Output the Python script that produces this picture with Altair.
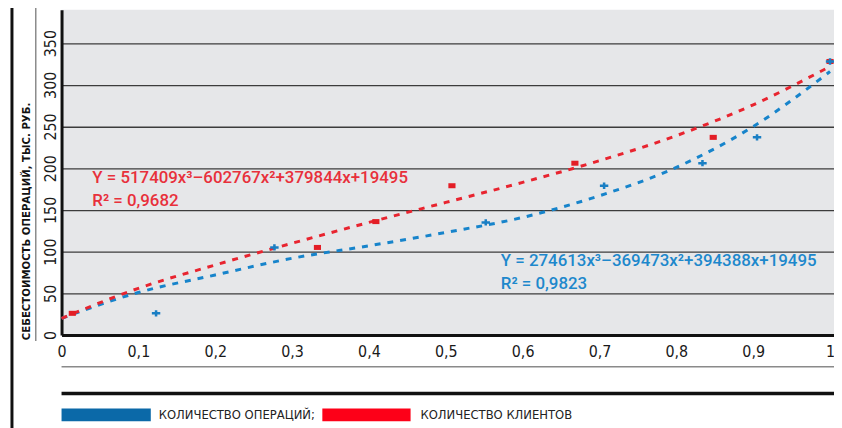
import altair as alt
import pandas as pd

# ---- data ----
x_ticks = [0, 0.1, 0.2, 0.3, 0.4, 0.5, 0.6, 0.7, 0.8, 0.9, 1.0]
y_ticks = [0, 50, 100, 150, 200, 250, 300, 350]

series_ops = "КОЛИЧЕСТВО ОПЕРАЦИЙ"
series_cli = "КОЛИЧЕСТВО КЛИЕНТОВ"

ops_x = [0.123, 0.277, 0.552, 0.706, 0.834, 0.905, 1.0]
ops_y = [26, 105, 135, 179, 206, 237, 328]
cli_x = [0.014, 0.333, 0.409, 0.508, 0.668, 0.848, 1.0]
cli_y = [26, 105, 136, 179, 206, 237, 328]

trend_x = [0, 0.1, 0.2, 0.3, 0.4, 0.5, 0.6, 0.7, 0.8, 0.9, 1.0]
ops_trend = [20, 51, 72, 92, 107, 123, 141, 167, 201, 250, 316]
cli_trend = [20, 56, 84, 110, 135, 159, 183, 209, 239, 276, 322]

eq_cli = ["Y = 517409x³–602767x²+379844x+19495", "R² = 0,9682"]
eq_ops = ["Y = 274613x³–369473x²+394388x+19495", "R² = 0,9823"]
y_title = "СЕБЕСТОИМОСТЬ ОПЕРАЦИЙ, ТЫС. РУБ."
legend_labels = ["КОЛИЧЕСТВО ОПЕРАЦИЙ;", "КОЛИЧЕСТВО КЛИЕНТОВ"]

# ---- styles ----
BLUE_T = "#1784cb"
RED_T = "#e8242f"
BLUE_P = "#1a7fc4"
RED_P = "#e31e26"
BLUE_TXT = "#1d88cc"
RED_TXT = "#e8303b"
LEG_BLUE = "#0b69a8"
LEG_RED = "#fd0018"
NARROW = "'DejaVu Sans Condensed', 'Liberation Sans Narrow', Roboto, sans-serif"
EQFONT = "Roboto, Liberation Sans, sans-serif"

points_ops = pd.DataFrame({"x": ops_x, "y": ops_y, "s": series_ops})
points_cli = pd.DataFrame({"x": cli_x, "y": cli_y, "s": series_cli})
trend = pd.concat([
    pd.DataFrame({"x": trend_x, "y": ops_trend, "s": series_ops}),
    pd.DataFrame({"x": trend_x, "y": cli_trend, "s": series_cli}),
])
one = pd.DataFrame({"k": [0]})

xs = alt.Scale(domain=[0, 779 / 775], nice=False, zero=False)
ys = alt.Scale(domain=[0, 390], nice=False)
cs = alt.Scale(domain=[series_ops, series_cli], range=[BLUE_T, RED_T])

xenc = alt.X("x:Q", scale=xs, axis=alt.Axis(
    values=x_ticks, ticks=False, grid=False, title=None,
    labelExpr="replace(format(datum.value, '~g'), '.', ',')",
    labelFont=NARROW, labelFontSize=16, labelColor="#1a1a1a",
    labelPadding=9, domainColor="#111", domainWidth=3,
    labelFlush=False, labelOverlap=False))
yenc = alt.Y("y:Q", scale=ys, axis=alt.Axis(
    values=y_ticks, ticks=False, grid=True, gridColor="#3c3c3c", gridWidth=1.3,
    labelAngle=270, labelAlign="center", labelBaseline="alphabetic",
    labelFont=NARROW, labelFontSize=16, labelColor="#1a1a1a", labelPadding=6,
    domainColor="#111", domainWidth=3, labelFlush=False, labelOverlap=False,
    title=y_title, titleAngle=270, titleX=-35, titleY=213,
    titleAlign="center", titleBaseline="middle",
    titleFont=NARROW, titleFontSize=11.4, titleFontWeight="bold", titleColor="#111"))

trend_layer = alt.Chart(trend).mark_line(
    strokeDash=[6, 7], strokeWidth=3, interpolate="monotone"
).encode(x=xenc, y=yenc, color=alt.Color("s:N", scale=cs, legend=None), detail="s:N")

rect_path = "M-1,-0.7H1V0.7H-1Z"
plus_path = "M-1,-0.3H-0.3V-0.75H0.3V-0.3H1V0.3H0.3V0.75H-0.3V0.3H-1Z"

cli_layer = alt.Chart(points_cli).mark_point(
    shape=rect_path, size=52, filled=True, opacity=1, color=RED_P
).encode(x="x:Q", y="y:Q")
ops_layer = alt.Chart(points_ops).mark_point(
    shape=plus_path, size=72, filled=True, opacity=1, color=BLUE_P
).encode(x="x:Q", y="y:Q")

def txt(s, x, y, color, font=EQFONT, size=17, weight=500):
    return alt.Chart(one).mark_text(
        text=s, align="left", baseline="middle", font=font, fontSize=size,
        fontWeight=weight, color=color
    ).encode(x=alt.value(x), y=alt.value(y))

texts = [
    txt(eq_cli[0], 31, 170, RED_TXT),
    txt(eq_cli[1], 31, 193, RED_TXT),
    txt(eq_ops[0], 443, 253, BLUE_TXT),
    txt(eq_ops[1], 443, 277, BLUE_TXT),
    txt(legend_labels[0], 98, 409, "#222", font=NARROW, size=13, weight="normal"),
    txt(legend_labels[1], 362, 409, "#222", font=NARROW, size=13, weight="normal"),
]

def hrule(y, color, w):
    return alt.Chart(one).mark_rule(color=color, strokeWidth=w).encode(
        x=alt.value(0), x2=alt.value(790), y=alt.value(y))

def vrule(x, y1, y2, color, w):
    return alt.Chart(one).mark_rule(color=color, strokeWidth=w).encode(
        x=alt.value(x), y=alt.value(y1), y2=alt.value(y2))

def box(x1, x2, color):
    return alt.Chart(one).mark_rect(color=color).encode(
        x=alt.value(x1), x2=alt.value(x2), y=alt.value(402), y2=alt.value(415))

decor = [
    hrule(360, "#8a8a8a", 1.5),
    hrule(387, "#111", 3.5),
    vrule(-50, -2, 425, "#111", 3),
    vrule(-26, -2, 334, "#8a8a8a", 1.5),
    box(0, 90, LEG_BLUE),
    box(263, 352, LEG_RED),
]

chart = alt.layer(trend_layer, cli_layer, ops_layer, *texts, *decor).properties(
    width=779, height=328,
    autosize=alt.AutoSizeParams(type="none"),
    padding={"left": 54, "top": 0, "right": 0, "bottom": 92},
    background="white",
).configure_view(fill="#e6e7e9", stroke=None)

chart.save("out.html", embed_options={"renderer": "svg", "actions": False})
